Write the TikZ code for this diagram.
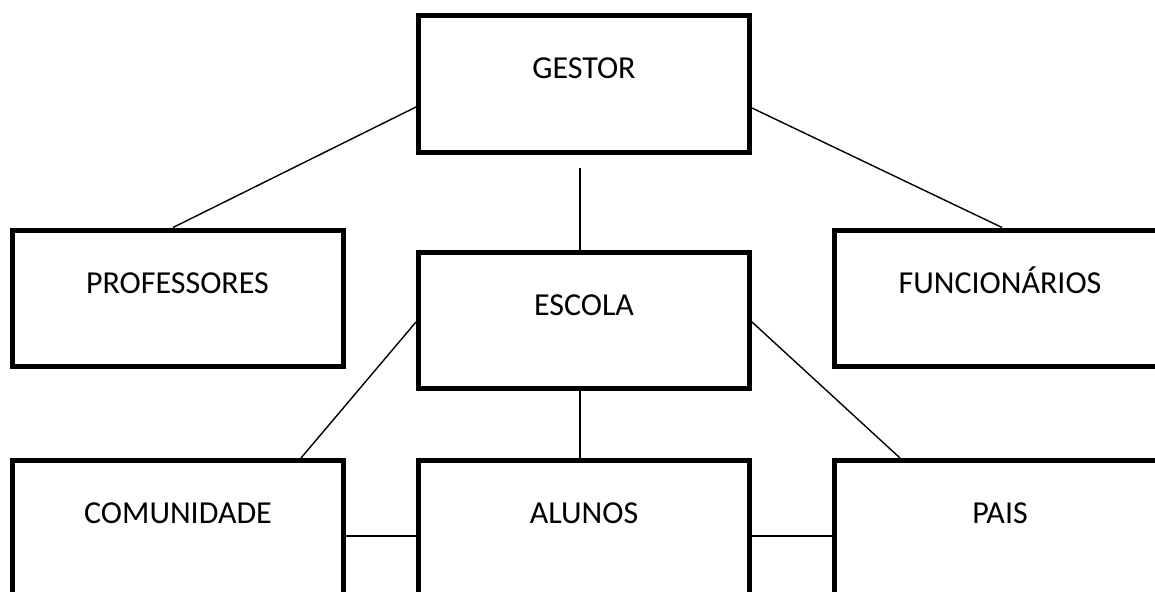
\documentclass[tikz,border=0pt]{standalone}
\usepackage{fontspec}
\setmainfont{Carlito}
\begin{document}
\begin{tikzpicture}[x=1pt,y=-1pt,
  box/.style={draw=black,fill=white,line width=5pt,minimum width=331pt,minimum height=136pt,inner sep=0pt},
  lbl/.style={anchor=base,inner sep=0pt,font=\fontsize{32}{38}\selectfont},
  conn/.style={draw=black,line width=1.4pt}]
\useasboundingbox (0,0) rectangle (1155,591);
\clip (0,0) rectangle (1155,591);
\node[box] (gestor) at (584,84) {};
\node[box] (prof) at (177.5,298) {};
\node[box] (escola) at (584,320.5) {};
\node[box] (func) at (1000,298) {};
\node[box] (comun) at (178,528.5) {};
\node[box] (alunos) at (584,528.5) {};
\node[box] (pais) at (1000,528.5) {};
\node[lbl] (tgestor) at ([yshift=5pt]gestor.center) {GESTOR};
\node[lbl] (tprof) at ([yshift=5pt]prof.center) {PROFESSORES};
\node[lbl] (tescola) at ([yshift=5pt]escola.center) {ESCOLA};
\node[lbl] (tfunc) at ([yshift=5pt]func.center) {FUNCIONÁRIOS};
\node[lbl] (tcomun) at ([yshift=5pt]comun.center) {COMUNIDADE};
\node[lbl] (talunos) at ([yshift=5pt]alunos.center) {ALUNOS};
\node[lbl] (tpais) at ([yshift=5pt]pais.center) {PAIS};
\coordinate (vtop) at (580,168);
\draw[conn] ([yshift=-23pt]gestor.west) -- ([xshift=-4.5pt]prof.north);
\draw[conn] ([yshift=-24pt]gestor.east) -- ([xshift=2pt]func.north);
\draw[conn] (vtop) -- ([xshift=-4pt]escola.north);
\draw[conn] ([yshift=-1.5pt]escola.west) -- ([xshift=123pt]comun.north);
\draw[conn] ([yshift=-1.5pt]escola.east) -- ([xshift=-100pt]pais.north);
\draw[conn] ([xshift=-4pt]escola.south) -- ([xshift=-4pt]alunos.north);
\draw[conn] ([yshift=-7.5pt]comun.east) -- ([yshift=-7.5pt]alunos.west);
\draw[conn] ([yshift=-7.5pt]alunos.east) -- ([yshift=-7.5pt]pais.west);
\end{tikzpicture}
\end{document}
